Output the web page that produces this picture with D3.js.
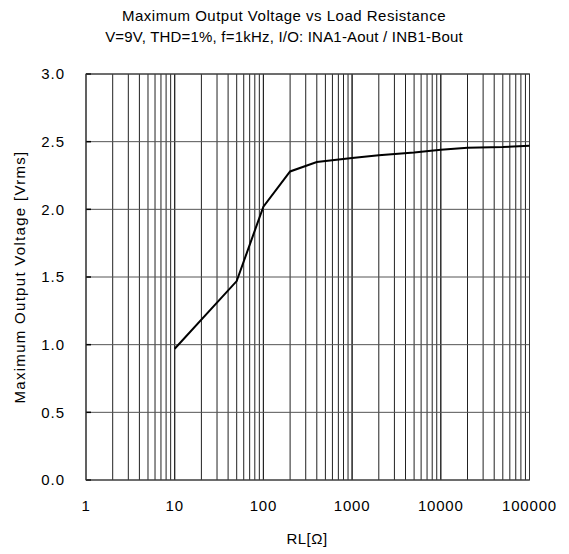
<!DOCTYPE html>
<html>
<head>
<meta charset="utf-8">
<script src="https://cdn.jsdelivr.net/npm/d3@7"></script>
<style>
  body { margin: 0; background: #fff; }
  text { font-family: "Liberation Sans", Arial, sans-serif; fill: #000; }
</style>
</head>
<body>
<svg width="569" height="554"></svg>
<script>
// load resistance [ohm] and max output voltage [Vrms]
const loadRes = [10, 50, 100, 200, 400, 1000, 2000, 5000, 10000, 20000, 50000, 100000];
const outVolt = [0.97, 1.47, 2.02, 2.28, 2.35, 2.38, 2.40, 2.42, 2.44, 2.455, 2.46, 2.47];

const xTicks = [1, 10, 100, 1000, 10000, 100000];
const yTicks = [0, 0.5, 1.0, 1.5, 2.0, 2.5, 3.0];

const titleLines = [
  "Maximum Output Voltage vs Load Resistance",
  "V=9V, THD=1%, f=1kHz, I/O: INA1-Aout / INB1-Bout"
];

const svg = d3.select("svg");
const plotL = 86, plotR = 529.5, plotT = 74, plotB = 480;

const x = d3.scaleLog().domain([1, 100000]).range([plotL, plotR]);
const y = d3.scaleLinear().domain([0, 3]).range([plotB, plotT]);

// minor + major vertical grid
const vLines = [];
for (let d = 1; d < 100000; d *= 10) {
  for (let k = 1; k <= 10; k++) vLines.push(d * k);
}
svg.append("g")
  .selectAll("line")
  .data(vLines)
  .join("line")
  .attr("x1", (d) => x(d))
  .attr("x2", (d) => x(d))
  .attr("y1", plotT)
  .attr("y2", plotB)
  .attr("stroke", "#222")
  .attr("stroke-width", 1);

// horizontal grid
svg.append("g")
  .selectAll("line")
  .data(yTicks)
  .join("line")
  .attr("x1", plotL)
  .attr("x2", plotR)
  .attr("y1", (d) => y(d))
  .attr("y2", (d) => y(d))
  .attr("stroke", "#555")
  .attr("stroke-width", 1);

// small ticks on left axis
svg.append("g")
  .selectAll("line")
  .data(yTicks)
  .join("line")
  .attr("x1", plotL)
  .attr("x2", plotL + 5)
  .attr("y1", (d) => y(d))
  .attr("y2", (d) => y(d))
  .attr("stroke", "#000")
  .attr("stroke-width", 1.5);

// frame
svg.append("rect")
  .attr("x", plotL)
  .attr("y", plotT)
  .attr("width", plotR - plotL)
  .attr("height", plotB - plotT)
  .attr("fill", "none")
  .attr("stroke", "#333")
  .attr("stroke-width", 1);

// data line
svg.append("path")
  .datum(loadRes.map((r, i) => [r, outVolt[i]]))
  .attr("fill", "none")
  .attr("stroke", "#000")
  .attr("stroke-width", 2)
  .attr("d", d3.line().x((d) => x(d[0])).y((d) => y(d[1])));

// y tick labels
svg.append("g")
  .selectAll("text")
  .data(yTicks)
  .join("text")
  .attr("x", 65)
  .attr("y", (d) => y(d))
  .attr("dy", "0.36em")
  .attr("text-anchor", "end")
  .style("font-size", "15px")
  .style("letter-spacing", "1px")
  .text((d) => d.toFixed(1));

// x tick labels
svg.append("g")
  .selectAll("text")
  .data(xTicks)
  .join("text")
  .attr("x", (d) => x(d))
  .attr("y", 511)
  .attr("text-anchor", "middle")
  .style("font-size", "15px")
  .style("letter-spacing", "0.8px")
  .text((d) => d);

// axis titles
svg.append("text")
  .attr("x", 307)
  .attr("y", 544)
  .attr("text-anchor", "middle")
  .style("font-size", "15px")
  .style("letter-spacing", "0.5px")
  .text("RL[Ω]");

svg.append("text")
  .attr("transform", "translate(25," + (plotT + plotB) / 2 + ") rotate(-90)")
  .attr("text-anchor", "middle")
  .style("font-size", "15px")
  .style("letter-spacing", "1.3px")
  .text("Maximum Output Voltage [Vrms]");

// title
svg.append("g")
  .selectAll("text")
  .data(titleLines)
  .join("text")
  .attr("x", 284)
  .attr("y", (d, i) => 21 + i * 21)
  .attr("text-anchor", "middle")
  .style("font-size", "15px")
  .style("letter-spacing", (d, i) => (i === 0 ? "0.5px" : "0.2px"))
  .text((d) => d);
</script>
</body>
</html>
